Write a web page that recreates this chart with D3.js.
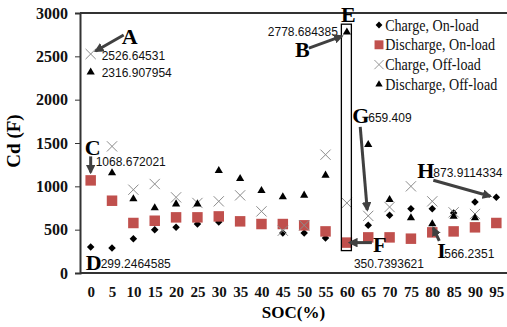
<!DOCTYPE html>
<html>
<head>
<meta charset="utf-8">
<script src="https://cdn.jsdelivr.net/npm/d3@7"></script>
<style>
  body { margin: 0; background: #fff; }
  svg { display: block; }
</style>
</head>
<body>
<script>
var w = 507, h = 327;
var serif = "'Liberation Serif', 'Times New Roman', serif";

// data
var soc = [0, 5, 10, 15, 20, 25, 30, 35, 40, 45, 50, 55, 60, 65, 70, 75, 80, 85, 90, 95];
var chargeOn = [299.2464585, 288, 396, 500, 527, 565, 588, 590, 560, 461, 461, 404, 340, 550, 665, 742, 742, 692, 819, 873.9114334];
var dischargeOn = [1068.672021, 834, 577, 603, 642, 642, 653, 596, 565, 565, 550, 480, 350.7393621, 411, 411, 396, 469, 480, 527, 577];
var chargeOff = [2526.64531, 1461, 961, 1027, 873, 808, 827, 896, 711, 488, 550, 1365, 808, 659.409, 761, 1000, 827, 700, 681, null];
var dischargeOff = [2316.907954, 1154, 854, 750, 796, 796, 1180, 1088, 950, 877, 896, 1127, 2778.684385, 1481, 846, 635, 566.2351, 653, 635, null];
var yTicks = [0, 500, 1000, 1500, 2000, 2500, 3000];

var seriesNames = ["Charge, On-load", "Discharge, On-load", "Charge, Off-load", "Discharge, Off-load"];

var margin = {left: 80, right: 0, top: 13, bottom: 54};

var svg = d3.select("body").append("svg")
    .attr("width", w)
    .attr("height", h);

var x = d3.scalePoint()
    .domain(soc)
    .range([margin.left, w - margin.right])
    .padding(0.5);

var y = d3.scaleLinear()
    .domain([0, 3000])
    .range([h - margin.bottom, margin.top]);

// arrow head
svg.append("defs").append("marker")
    .attr("id", "head")
    .attr("viewBox", "0 0 10 10")
    .attr("refX", 8).attr("refY", 5)
    .attr("markerWidth", 3.2).attr("markerHeight", 3.2)
    .attr("orient", "auto")
    .append("path")
    .attr("d", "M0,0 L10,5 L0,10 z")
    .attr("fill", "#404040");

// frame: top line + axes
svg.append("line")
    .attr("x1", margin.left).attr("x2", w)
    .attr("y1", margin.top).attr("y2", margin.top)
    .attr("stroke", "#333").attr("stroke-width", 2);

var yAxis = svg.append("g")
    .attr("transform", "translate(" + margin.left + ",0)")
    .call(d3.axisLeft(y).tickValues(yTicks).tickFormat(d3.format("d")).tickSize(5).tickPadding(7));
yAxis.select(".domain").attr("stroke", "#333").attr("stroke-width", 2);
yAxis.selectAll(".tick line").attr("stroke", "#333");
yAxis.selectAll("text")
    .style("font-family", serif)
    .style("font-weight", "bold")
    .style("font-size", "16px")
    .attr("fill", "#111");

var xAxis = svg.append("g")
    .attr("transform", "translate(0," + y(0) + ")")
    .call(d3.axisBottom(x).tickSize(0).tickPadding(13));
xAxis.select(".domain")
    .attr("d", "M" + margin.left + ",0H" + w)
    .attr("stroke", "#333").attr("stroke-width", 2);
xAxis.selectAll("text")
    .style("font-family", serif)
    .style("font-weight", "bold")
    .style("font-size", "15px")
    .attr("fill", "#111");

svg.append("text")
    .attr("x", (margin.left + w) / 2)
    .attr("y", 318)
    .attr("text-anchor", "middle")
    .style("font-family", serif)
    .style("font-weight", "bold")
    .style("font-size", "17px")
    .text("SOC(%)");

svg.append("text")
    .attr("transform", "translate(20," + (y(1500) - 2) + ") rotate(-90)")
    .attr("text-anchor", "middle")
    .style("font-family", serif)
    .style("font-weight", "bold")
    .style("font-size", "19px")
    .text("Cd (F)");

// markers
var sym = {
    diamond: d3.symbol().type(d3.symbolDiamond2).size(36),
    square: d3.symbol().type(d3.symbolSquare).size(110),
    cross: d3.symbol().type(d3.symbolX).size(70),
    triangle: d3.symbol().type(d3.symbolTriangle2).size(48)
};

function drawSeries(vals, s, fill, stroke) {
    svg.append("g").selectAll("path")
        .data(vals.map(function(v, i) { return {soc: soc[i], v: v}; })
            .filter(function(d) { return d.v != null; }))
        .enter()
        .append("path")
        .attr("transform", function(d) { return "translate(" + x(d.soc) + "," + y(d.v) + ")"; })
        .attr("d", s)
        .attr("fill", fill)
        .attr("stroke", stroke)
        .attr("stroke-width", stroke == "none" ? 0 : 1);
}

drawSeries(chargeOn, sym.diamond, "#000", "none");
drawSeries(dischargeOn, sym.square, "#c0504d", "none");
drawSeries(chargeOff, sym.cross, "none", "#8c8c8c");
drawSeries(dischargeOff, sym.triangle, "#000", "none");

// box around the 60% column
var iBox = soc.indexOf(60);
svg.append("rect")
    .attr("x", x(60) - 5.5)
    .attr("y", y(dischargeOff[iBox]) - 8)
    .attr("width", 10)
    .attr("height", y(dischargeOn[iBox]) - y(dischargeOff[iBox]) + 16)
    .attr("fill", "none")
    .attr("stroke", "#000")
    .attr("stroke-width", 1.3);

// annotations: letter, value text and arrow, all offset from the point they mark
var notes = [
    {s: chargeOff, soc: 0, letter: "A", lx: 31, ly: -10, txt: "2526.64531", tx: 11, ty: 6, a: [33, -19, 5, -3]},
    {s: dischargeOff, soc: 0, letter: "", txt: "2316.907954", tx: 11, ty: 5},
    {s: dischargeOn, soc: 0, letter: "C", lx: -6, ly: -25, txt: "1068.672021", tx: 5, ty: -14, a: [0, -24, 0, -8]},
    {s: chargeOn, soc: 0, letter: "D", lx: -5, ly: 23, txt: "299.2464585", tx: 10, ty: 21},
    {s: dischargeOff, soc: 60, letter: "E", lx: -6, ly: -10, txt: "2778.684385", tx: -9, ty: 4, anchor: "end"},
    {s: dischargeOff, soc: 60, letter: "B", lx: -52, ly: 25, a: [-38, 16, -5, 4]},
    {s: dischargeOn, soc: 60, letter: "F", lx: 26, ly: 9, txt: "350.7393621", tx: 7, ty: 25, a: [25, 0, 3, 0]},
    {s: chargeOff, soc: 65, letter: "G", lx: -16, ly: -93, txt: "659.409", tx: 0, ty: -94, a: [-8, -89, -1, -6]},
    {s: chargeOn, soc: 95, letter: "H", lx: -79, ly: -19, txt: "873.9114334", tx: -63, ty: -20, a: [-63, -17, -6, -1]},
    {s: dischargeOff, soc: 80, letter: "I", lx: 5, ly: 34, txt: "566.2351", tx: 12, ty: 34, a: [7, 17, 1, 4]}
];

var ann = svg.append("g");
notes.forEach(function(n) {
    var px = x(n.soc), py = y(n.s[soc.indexOf(n.soc)]);
    if (n.a) {
        ann.append("line")
            .attr("x1", px + n.a[0]).attr("y1", py + n.a[1])
            .attr("x2", px + n.a[2]).attr("y2", py + n.a[3])
            .attr("stroke", "#404040")
            .attr("stroke-width", 3)
            .attr("marker-end", "url(#head)");
    }
    if (n.letter) {
        ann.append("text")
            .attr("x", px + n.lx).attr("y", py + n.ly)
            .style("font-family", serif)
            .style("font-weight", "bold")
            .style("font-size", "22px")
            .text(n.letter);
    }
    if (n.txt) {
        ann.append("text")
            .attr("x", px + n.tx).attr("y", py + n.ty)
            .attr("text-anchor", n.anchor || "start")
            .style("font-family", "'Liberation Sans', sans-serif")
            .style("font-size", "12px")
            .attr("fill", "#111")
            .text(n.txt);
    }
});

// legend
var legSyms = [sym.diamond, sym.square, sym.cross, sym.triangle];
var legFill = ["#000", "#c0504d", "none", "#000"];
var legStroke = ["none", "none", "#8c8c8c", "none"];
var leg = svg.append("g").attr("transform", "translate(379,25)");
var items = leg.selectAll("g")
    .data(seriesNames)
    .enter()
    .append("g")
    .attr("transform", function(d, i) { return "translate(0," + (i * 19.8) + ")"; });
items.append("path")
    .attr("d", function(d, i) { return legSyms[i](); })
    .attr("transform", function(d, i) { return i == 1 ? "scale(0.85)" : "scale(0.9)"; })
    .attr("fill", function(d, i) { return legFill[i]; })
    .attr("stroke", function(d, i) { return legStroke[i]; });
items.append("text")
    .attr("x", 7)
    .attr("y", 5.5)
    .attr("transform", "scale(0.88,1)")
    .style("font-family", serif)
    .style("font-size", "16px")
    .attr("fill", "#111")
    .text(function(d) { return d; });
</script>
</body>
</html>
